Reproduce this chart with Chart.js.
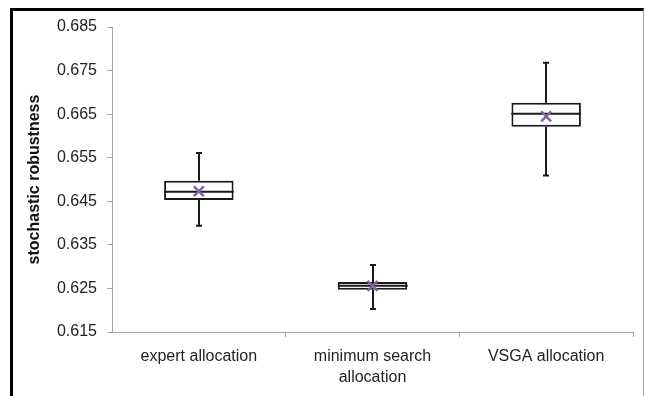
<!DOCTYPE html>
<html>
<head>
<meta charset="utf-8">
<script src="https://cdn.jsdelivr.net/npm/chart.js@4.4.1/dist/chart.umd.min.js"></script>
<style>
    body { margin: 0; background: #fff; }
    #wrap { position: relative; width: 645px; height: 396px; overflow: hidden; }
    #frame {
        position: absolute; left: 10px; top: 8px; width: 630px; height: 420px;
        border-left: 3px solid #000; border-top: 3px solid #000; border-right: 1px solid #a0a0a0;
    }
    #chart { position: absolute; left: 0; top: 0; }
</style>
</head>
<body>
<div id="wrap">
    <div id="frame"></div>
    <canvas id="chart" width="645" height="396"></canvas>
</div>
<script>
// Categories
const categories = ['expert allocation', ['minimum search', 'allocation'], 'VSGA allocation'];

// Box plot values per category
const whiskerLow = [0.6394, 0.6203, 0.6509];
const quartile1 = [0.6453, 0.6247, 0.6621];
const medians = [0.6472, 0.6256, 0.6651];
const quartile3 = [0.6497, 0.6265, 0.6676];
const whiskerHigh = [0.6561, 0.6304, 0.6768];
const means = [0.6473, 0.6256, 0.6645];

// Y axis ticks
const yMin = 0.615;
const yMax = 0.685;
const yStep = 0.01;

const lineColor = '#1a1a1a';
const axisColor = '#a6a6a6';
const fontFamily = '"Liberation Sans", Arial, sans-serif';

// Draw whiskers and median lines on top of the boxes
const boxPlotLines = {
    id: 'boxPlotLines',
    afterDatasetDraw(chart, args) {
        if (args.index !== 0) return;
        const ctx = chart.ctx;
        const y = chart.scales.y;
        const meta = chart.getDatasetMeta(0);
        ctx.save();
        ctx.strokeStyle = lineColor;
        ctx.lineWidth = 2;
        meta.data.forEach((bar, i) => {
            const cx = Math.round(bar.x);
            const half = bar.width / 2;
            const capHalf = 3;
            const yHigh = y.getPixelForValue(whiskerHigh[i]);
            const yQ3 = y.getPixelForValue(quartile3[i]);
            const yQ1 = y.getPixelForValue(quartile1[i]);
            const yLow = y.getPixelForValue(whiskerLow[i]);
            const yMed = y.getPixelForValue(medians[i]);
            ctx.beginPath();
            ctx.moveTo(cx, yHigh); ctx.lineTo(cx, yQ3);
            ctx.moveTo(cx, yQ1); ctx.lineTo(cx, yLow);
            ctx.moveTo(cx - capHalf, yHigh); ctx.lineTo(cx + capHalf, yHigh);
            ctx.moveTo(cx - capHalf, yLow); ctx.lineTo(cx + capHalf, yLow);
            ctx.moveTo(cx - half, yMed); ctx.lineTo(cx + half, yMed);
            ctx.stroke();
        });
        ctx.restore();
    }
};

new Chart(document.getElementById('chart'), {
    data: {
        labels: categories,
        datasets: [
            {
                type: 'bar',
                order: 2,
                data: quartile1.map((q, i) => [q, quartile3[i]]),
                backgroundColor: '#ffffff',
                borderColor: lineColor,
                borderWidth: 2,
                borderSkipped: false,
                categoryPercentage: 1,
                barPercentage: 0.4
            },
            {
                type: 'line',
                order: 1,
                data: means,
                showLine: false,
                pointStyle: 'crossRot',
                pointRadius: 7,
                pointBorderWidth: 2.5,
                pointBorderColor: '#8064a2',
                pointBackgroundColor: '#8064a2'
            }
        ]
    },
    options: {
        responsive: false,
        animation: false,
        layout: { padding: { left: 14, top: 27, right: 12, bottom: 0 } },
        plugins: {
            legend: { display: false },
            tooltip: { enabled: false }
        },
        scales: {
            x: {
                offset: true,
                grid: {
                    offset: true,
                    drawOnChartArea: false,
                    drawTicks: true,
                    tickLength: 5,
                    color: (ctx) => ctx.index === 0 ? 'rgba(0,0,0,0)' : axisColor
                },
                border: { color: axisColor, width: 1 },
                ticks: {
                    color: '#222',
                    padding: 9,
                    maxRotation: 0,
                    autoSkip: false,
                    font: { family: fontFamily, size: 16, lineHeight: 1.3 }
                },
                afterFit(scale) { scale.height = 64; }
            },
            y: {
                min: yMin,
                max: yMax,
                grid: {
                    drawOnChartArea: false,
                    tickLength: 5,
                    color: axisColor
                },
                border: { color: axisColor, width: 1 },
                ticks: {
                    stepSize: yStep,
                    color: '#222',
                    padding: 10,
                    font: { family: fontFamily, size: 16 },
                    callback: v => v.toFixed(3)
                },
                title: {
                    display: true,
                    text: 'stochastic robustness',
                    color: '#111',
                    padding: { top: 11, bottom: 0 },
                    font: { family: fontFamily, size: 16, weight: 'bold' }
                },
                afterFit(scale) { scale.width = 98; }
            }
        }
    },
    plugins: [boxPlotLines]
});
</script>
</body>
</html>
